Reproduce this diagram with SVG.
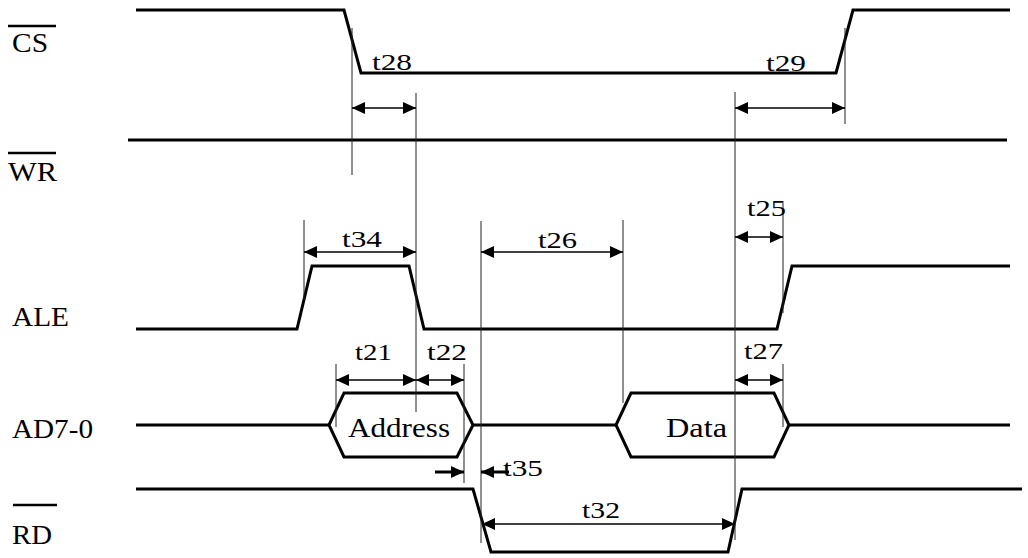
<svg xmlns="http://www.w3.org/2000/svg" width="1028" height="558" viewBox="0 0 1028 558">
<defs>
<marker id="ah" markerUnits="userSpaceOnUse" markerWidth="14" markerHeight="12" refX="13" refY="6" orient="auto-start-reverse" viewBox="0 0 14 12">
<path d="M0,0 L13,6 L0,12 z" fill="#000"/>
</marker>
<style>
.sig{fill:none;stroke:#000;stroke-width:3;stroke-linejoin:miter}
.ref{fill:none;stroke:#222;stroke-width:1}
.arr{fill:none;stroke:#000;stroke-width:1.6}
.dbl{marker-start:url(#ah);marker-end:url(#ah)}
.one{marker-end:url(#ah)}
.lbl{font-family:"Liberation Serif",serif;font-size:28px;fill:#000}
.t{font-family:"Liberation Serif",serif;font-size:24px;fill:#000}
.ov{stroke:#000;stroke-width:2.5}
</style>
</defs>
<rect width="1028" height="558" fill="#fff"/>

<g id="signal-CS">
<text class="lbl" x="12" y="52" textLength="36" lengthAdjust="spacingAndGlyphs">CS</text>
<line class="ov" x1="8" y1="26" x2="56" y2="26"/>
<polyline class="sig" points="136,10 344,10 361,73 836,73 853,10 1010,10"/>
</g>

<g id="signal-WR">
<text class="lbl" x="8" y="181" textLength="49" lengthAdjust="spacingAndGlyphs">WR</text>
<line class="ov" x1="8" y1="153" x2="56" y2="153"/>
<line class="sig" x1="128" y1="140" x2="1007" y2="140"/>
</g>

<g id="signal-ALE">
<text class="lbl" x="12" y="326" textLength="57" lengthAdjust="spacingAndGlyphs">ALE</text>
<polyline class="sig" points="136,329 297,329 312,266 409,266 424,329 777,329 792,266 1010,266"/>
</g>

<g id="signal-AD">
<text class="lbl" x="12" y="438" textLength="81" lengthAdjust="spacingAndGlyphs">AD7-0</text>
<line class="sig" x1="136" y1="425" x2="329" y2="425"/>
<polygon class="sig" points="329,425 344,393 457,393 473,425 457,457 344,457"/>
<line class="sig" x1="473" y1="425" x2="616" y2="425"/>
<polygon class="sig" points="616,425 631,393 774,393 789,425 774,457 631,457"/>
<line class="sig" x1="789" y1="425" x2="1010" y2="425"/>
<text class="lbl" x="348" y="437" textLength="102" lengthAdjust="spacingAndGlyphs">Address</text>
<text class="lbl" x="666" y="437" textLength="61" lengthAdjust="spacingAndGlyphs">Data</text>
</g>

<g id="signal-RD">
<text class="lbl" x="12" y="544" textLength="40" lengthAdjust="spacingAndGlyphs">RD</text>
<line class="ov" x1="13" y1="505" x2="57" y2="505"/>
<polyline class="sig" points="136,489 473,489 491,552 728,552 742,489 1022,489"/>
</g>

<g id="connectors">
<line class="ref" x1="352" y1="28" x2="352" y2="175"/>
<line class="ref" x1="416" y1="93" x2="416" y2="412"/>
<line class="ref" x1="735" y1="92" x2="735" y2="540"/>
<line class="ref" x1="845" y1="28" x2="845" y2="124"/>
<line class="ref" x1="304" y1="220" x2="304" y2="300"/>
<line class="ref" x1="481" y1="221" x2="481" y2="543"/>
<line class="ref" x1="623" y1="220" x2="623" y2="403"/>
<line class="ref" x1="783" y1="203" x2="783" y2="313"/>
<line class="ref" x1="336" y1="364" x2="336" y2="427"/>
<line class="ref" x1="464" y1="364" x2="464" y2="483"/>
<line class="ref" x1="783" y1="364" x2="783" y2="427"/>

<line class="arr dbl" x1="352" y1="108" x2="416" y2="108"/>
<line class="arr dbl" x1="735" y1="108" x2="845" y2="108"/>
<line class="arr dbl" x1="304" y1="252" x2="416" y2="252"/>
<line class="arr dbl" x1="481" y1="252" x2="623" y2="252"/>
<line class="arr dbl" x1="735" y1="237" x2="783" y2="237"/>
<line class="arr dbl" x1="336" y1="380" x2="416" y2="380"/>
<line class="arr dbl" x1="416" y1="380" x2="464" y2="380"/>
<line class="arr dbl" x1="735" y1="380" x2="783" y2="380"/>
<line class="arr one" x1="435" y1="472" x2="464" y2="472" style="stroke-width:3"/>
<line class="arr one" x1="509" y1="472" x2="481" y2="472" style="stroke-width:3"/>
<line class="arr dbl" x1="482" y1="524" x2="735" y2="524"/>

<text class="t" x="372" y="70" textLength="40" lengthAdjust="spacingAndGlyphs">t28</text>
<text class="t" x="766" y="71" textLength="40" lengthAdjust="spacingAndGlyphs">t29</text>
<text class="t" x="342" y="247" textLength="40" lengthAdjust="spacingAndGlyphs">t34</text>
<text class="t" x="538" y="248" textLength="39" lengthAdjust="spacingAndGlyphs">t26</text>
<text class="t" x="747" y="216" textLength="39" lengthAdjust="spacingAndGlyphs">t25</text>
<text class="t" x="355" y="360" textLength="37" lengthAdjust="spacingAndGlyphs">t21</text>
<text class="t" x="427" y="360" textLength="40" lengthAdjust="spacingAndGlyphs">t22</text>
<text class="t" x="744" y="359" textLength="39" lengthAdjust="spacingAndGlyphs">t27</text>
<text class="t" x="503" y="476" textLength="40" lengthAdjust="spacingAndGlyphs">t35</text>
<text class="t" x="582" y="518" textLength="38" lengthAdjust="spacingAndGlyphs">t32</text>
</g>
</svg>
